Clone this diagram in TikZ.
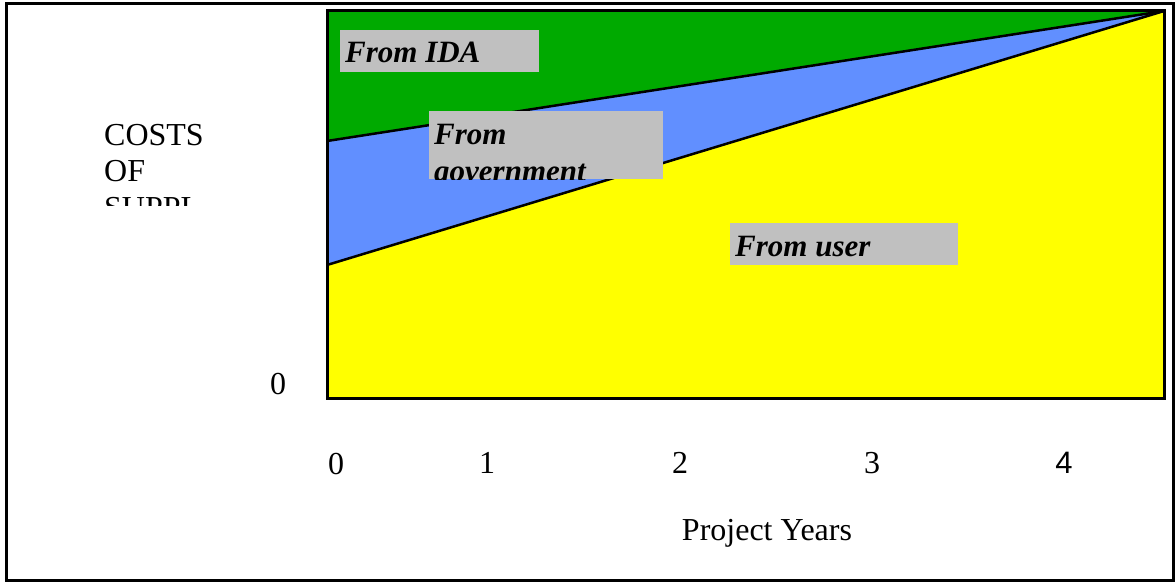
\documentclass[tikz,border=0pt]{standalone}
\usepackage{fontspec}
\setmainfont{Liberation Serif}
\newfontfamily\sansf{Liberation Sans}
\definecolor{idagreen}{RGB}{0,170,0}
\definecolor{govblue}{RGB}{97,143,255}
\definecolor{useryellow}{RGB}{255,255,0}
\definecolor{labelgray}{RGB}{192,192,192}
\tikzset{
  frameline/.style={draw=black, line width=3pt},
  region/.style={draw=black, line width=2.5pt, line join=round},
  labelbox/.style={fill=labelgray, draw=none, inner sep=0pt, anchor=north west},
  labeltext/.style={inner sep=0pt, anchor=base west, font=\fontsize{31}{37}\selectfont\bfseries\itshape},
  plaintext/.style={inner sep=0pt, anchor=base west, font=\fontsize{32}{37}\selectfont},
  ticktext/.style={inner sep=0pt, anchor=base, font=\fontsize{32}{37}\selectfont},
}
\begin{document}
\begin{tikzpicture}[x=1pt,y=-1pt]
\useasboundingbox (0,0) rectangle (1175,583);
% outer frame
\draw[frameline] (6.5,4) rectangle (1173,580);
% chart corners
\coordinate (tl) at (327,11);
\coordinate (bl) at (327,398);
\coordinate (br) at (1164,398);
\coordinate (apex) at (1164,11);
\coordinate (gb) at (327,141);
\coordinate (by) at (327,265);
% regions
\fill[useryellow] (by) -- (apex) -- (br) -- (bl) -- cycle;
\fill[govblue] (gb) -- (apex) -- (by) -- cycle;
\fill[idagreen] (tl) -- (apex) -- (gb) -- cycle;
\draw[region] (gb) -- (apex);
\draw[region] (by) -- (apex);
\draw[black, line width=3pt, line join=miter] (tl) rectangle (br);
% labels
\node[labelbox, minimum width=199pt, minimum height=42pt] (idabox) at (340,30) {};
\node[labeltext] (idatext) at (345,63) {From IDA};
\begin{scope}
  \clip (429,111) rectangle (663,179);
  \node[labelbox, minimum width=234pt, minimum height=68pt] (govbox) at (429,111) {};
  \node[labeltext] (govtext1) at (434,144) {From};
  \node[labeltext] (govtext2) at (434,181) {government};
\end{scope}
\node[labelbox, minimum width=228pt, minimum height=42pt] (userbox) at (730,223) {};
\node[labeltext] (usertext) at (735,256) {From user};
% y axis title (clipped)
\begin{scope}
  \clip (90,110) rectangle (240,205);
  \node[plaintext] (ytitle1) at (104,146) {COSTS};
  \node[plaintext] (ytitle2) at (104,182) {OF};
  \node[plaintext] (ytitle3) at (104,218) {SUPPL};
\end{scope}
\node[ticktext] (yzero) at (278,394) {0};
% x axis
\node[ticktext] (x0) at (336,474) {0};
\node[ticktext] (x1) at (487,473) {1};
\node[ticktext] (x2) at (680,473) {2};
\node[ticktext] (x3) at (872,473) {3};
\node[ticktext, font=\fontsize{31}{37}\selectfont\sansf] (x4) at (1064,473) {4};
\node[ticktext] (xtitle) at (767,540) {Project Years};
\end{tikzpicture}
\end{document}
